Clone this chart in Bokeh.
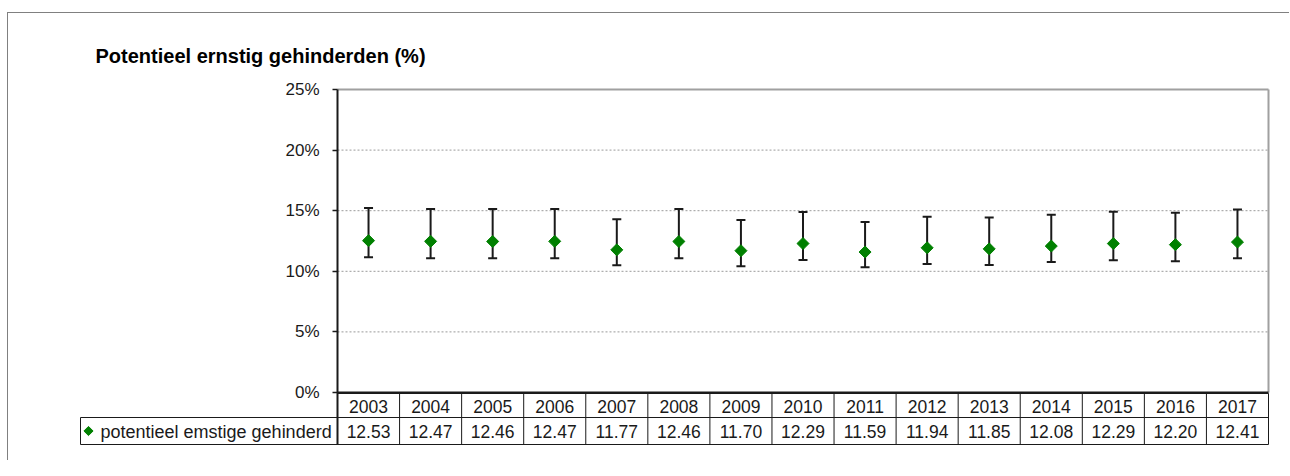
import numpy as np
from bokeh.plotting import figure
from bokeh.models import (ColumnDataSource, Range1d, FixedTicker,
                          PrintfTickFormatter, Whisker, TeeHead)
from bokeh.layouts import column
from bokeh.embed import file_html
from bokeh.resources import INLINE
from bokeh.core.properties import value

# ---------------- data ----------------
title_text = "Potentieel ernstig gehinderden (%)"
series_name = "potentieel emstige gehinderd"
years = ["2003", "2004", "2005", "2006", "2007", "2008", "2009", "2010",
         "2011", "2012", "2013", "2014", "2015", "2016", "2017"]
values = [12.53, 12.47, 12.46, 12.47, 11.77, 12.46, 11.70, 12.29,
          11.59, 11.94, 11.85, 12.08, 12.29, 12.20, 12.41]
upper = [15.22, 15.14, 15.14, 15.14, 14.30, 15.14, 14.23, 14.89,
         14.06, 14.51, 14.43, 14.67, 14.92, 14.84, 15.09]
lower = [11.15, 11.07, 11.07, 11.07, 10.49, 11.07, 10.41, 10.93,
         10.33, 10.60, 10.52, 10.77, 10.91, 10.82, 11.07]
y_ticks = [0, 5, 10, 15, 20, 25]

# ---------------- style / geometry ----------------
FONT = "Liberation Sans"
TEXT = "#1a1a1a"
GREEN = "#008000"
LINE = "#1a1a1a"
BOX_GRAY = "#a0a0a0"
n = len(years)
PX = 931 / n                 # pixels per year column
PY = 303 / max(y_ticks)      # pixels per percent
LEGEND_W = 257 / PX          # legend cell width in column units
Y_MAX = max(y_ticks)

x_pos = np.arange(n) + 0.5
src = ColumnDataSource(dict(x=x_pos, value=values, upper=upper, lower=lower))

p = figure(x_range=Range1d(-261 / PX, n + 4 / PX),
           y_range=Range1d(-56 / PY, Y_MAX + 69 / PY),
           width=1281, height=447,
           min_border_left=68, min_border_right=17, min_border_top=7, min_border_bottom=12,
           x_axis_location=None, output_backend="svg", toolbar_location=None)
# pixel-based range (0 = bottom edge of the chart area, growing downwards)
p.extra_y_ranges = {"table": Range1d(56, -372)}
p.background_fill_color = "white"
p.border_fill_color = "white"
p.outline_line_color = None
p.grid.visible = False

# title
p.text(x=[-242 / PX], y=[-337], text=[title_text], y_range_name="table",
       text_align="left", text_baseline="alphabetic",
       text_font=value(FONT), text_font_size="20px", text_font_style="bold",
       text_color="#000000")

# y axis, fixed at the left edge of the chart area
ax = p.yaxis[0]
ax.fixed_location = 0
ax.bounds = (-52 / PY, Y_MAX)
ax.ticker = FixedTicker(ticks=y_ticks)
ax.formatter = PrintfTickFormatter(format="%d%%")
ax.major_label_text_font = FONT
ax.major_label_text_font_size = "17px"
ax.major_label_text_color = TEXT
ax.major_tick_out = 5
ax.major_tick_in = 0
ax.minor_tick_out = 0
ax.minor_tick_in = 0
ax.major_label_standoff = 13
ax.axis_line_color = LINE
ax.axis_line_width = 2
ax.major_tick_line_color = LINE
ax.major_tick_line_width = 1.5

# grid lines (inner ticks) and chart box
inner = [t for t in y_ticks if 0 < t < Y_MAX]
p.segment(x0=[0] * len(inner), y0=inner, x1=[n] * len(inner), y1=inner,
          line_color="#9a9a9a", line_dash="2 2", line_width=1)
p.segment(x0=[0, n], y0=[Y_MAX, 0], x1=[n, n], y1=[Y_MAX, Y_MAX],
          line_color=BOX_GRAY, line_width=2)
p.segment(x0=[0], y0=[0], x1=[n], y1=[0], line_color=LINE, line_width=2)

# error bars and markers
wh = Whisker(base="x", upper="upper", lower="lower", source=src,
             line_color=LINE, line_width=2, level="glyph",
             upper_head=TeeHead(size=9, line_color=LINE, line_width=2),
             lower_head=TeeHead(size=9, line_color=LINE, line_width=2))
p.add_layout(wh)
p.scatter(x="x", y="value", source=src, marker="square", angle=np.pi / 4,
          size=8.5, fill_color=GREEN, line_color=GREEN, level="overlay")

# ---------------- data table ----------------
Y_TOP, Y_MID, Y_BOT = 1, 25, 52
vx = list(range(n + 1))
p.segment(x0=vx, y0=[Y_TOP] * (n + 1), x1=vx, y1=[Y_BOT] * (n + 1),
          line_color=LINE, line_width=1, y_range_name="table")
p.segment(x0=[-LEGEND_W], y0=[Y_MID], x1=[-LEGEND_W], y1=[Y_BOT],
          line_color=LINE, line_width=1, y_range_name="table")
p.segment(x0=[0, -LEGEND_W, -LEGEND_W], y0=[Y_TOP, Y_MID, Y_BOT],
          x1=[n, n, n], y1=[Y_TOP, Y_MID, Y_BOT],
          line_color=LINE, line_width=1, y_range_name="table")

row1_y = (Y_TOP + Y_MID) / 2 + 0.5
row2_y = (Y_MID + Y_BOT) / 2 + 0.5
p.text(x=x_pos, y=[row1_y] * n, text=years, y_range_name="table",
       text_align="center", text_baseline="middle",
       text_font=value(FONT), text_font_size="17.5px", text_color=TEXT)
p.text(x=x_pos, y=[row2_y] * n, text=[f"{v:.2f}" for v in values], y_range_name="table",
       text_align="center", text_baseline="middle",
       text_font=value(FONT), text_font_size="17.5px", text_color=TEXT)
p.scatter(x=[-LEGEND_W + 8 / PX], y=[row2_y - 0.5], marker="square", y_range_name="table",
          angle=np.pi / 4, size=6.5, fill_color=GREEN, line_color=GREEN)
p.text(x=[-LEGEND_W + 20 / PX], y=[row2_y], text=[series_name], y_range_name="table",
       text_align="left", text_baseline="middle",
       text_font=value(FONT), text_font_size="18px", text_color=TEXT)

layout = column(p, margin=(12, 0, 0, 7),
                styles={"border-top": "1px solid #808080",
                        "border-left": "1px solid #808080"})

open("out.html", "w").write(file_html(layout, INLINE))
